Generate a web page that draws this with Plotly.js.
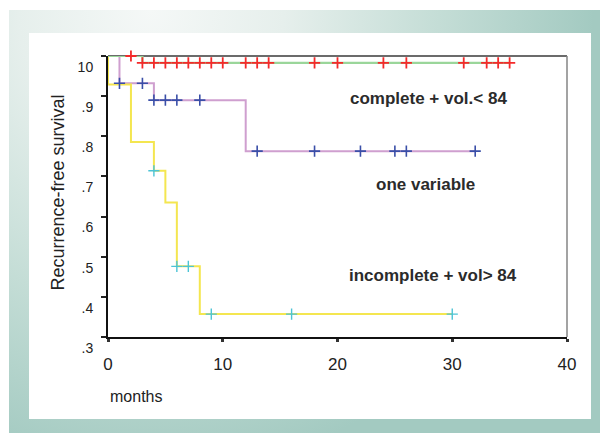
<!DOCTYPE html>
<html>
<head>
<meta charset="utf-8">
<script src="https://cdn.plot.ly/plotly-3.0.1.min.js"></script>
<style>
  html, body { margin: 0; padding: 0; background: #ffffff; }
  #frame { position: absolute; left: 9px; top: 10px; width: 591px; height: 423px;
    background: radial-gradient(ellipse 75% 110% at 24% 0%, #f5f8f7 0%, #e6efec 30%, #c4ddd6 65%, #a3cac1 100%); }
  #panel { position: absolute; left: 29px; top: 33px; width: 562px; height: 386px; background: #ffffff; }
  #chart { position: absolute; left: 0; top: 0; width: 600px; height: 433px; }
</style>
</head>
<body>
<div id="frame"></div>
<div id="panel"></div>
<div id="chart"></div>
<script>
// ---- data ----
// step curves (time in months, recurrence-free survival)
var completeTimes = [0, 3, 35];
var completeSurv  = [1.0, 0.983, 0.983];
var completeCensored = [2, 3, 4, 5, 6, 7, 8, 9, 10, 12, 13, 14, 18, 20, 24, 26, 31, 33, 34, 35];

var oneVarTimes = [0, 1, 4, 12, 32];
var oneVarSurv  = [1.0, 0.932, 0.89, 0.763, 0.763];
var oneVarCensored = [1, 3, 4, 5, 6, 8, 13, 18, 22, 25, 26, 32];

var incompleteTimes = [0, 0, 2, 4, 5, 6, 8, 30];
var incompleteSurv  = [1.0, 0.929, 0.786, 0.714, 0.635, 0.476, 0.357, 0.357];
var incompleteCensored = [4, 6, 7, 9, 16, 30];

var xTickVals = [0, 10, 20, 30, 40];
var xTickText = ['0', '10', '20', '30', '40'];
var yTickVals = [0.3, 0.4, 0.5, 0.6, 0.7, 0.8, 0.9, 1.0];
var yTickText = ['.3', '.4', '.5', '.6', '.7', '.8', '.9', '10'];

var groupLabels = ['complete + vol.< 84', 'one variable', 'incomplete + vol> 84'];

// value of a right-continuous step curve at time t
function stepValue(times, surv, t) {
  var v = surv[0];
  for (var i = 0; i < times.length; i++) { if (times[i] <= t) v = surv[i]; }
  return v;
}
function censorY(times, surv, cens) {
  return cens.map(function (t) { return stepValue(times, surv, t); });
}

var traces = [
  { x: oneVarTimes, y: oneVarSurv, mode: 'lines', cliponaxis: false, line: { shape: 'hv', color: '#cf9fcf', width: 2 }, hoverinfo: 'skip' },
  { x: incompleteTimes, y: incompleteSurv, mode: 'lines', cliponaxis: false, line: { shape: 'hv', color: '#f4e650', width: 2 }, hoverinfo: 'skip' },
  { x: completeTimes, y: completeSurv, mode: 'lines', cliponaxis: false, line: { shape: 'hv', color: '#9ad69a', width: 2.2 }, hoverinfo: 'skip' },
  { x: oneVarCensored, y: censorY(oneVarTimes, oneVarSurv, oneVarCensored), mode: 'markers', cliponaxis: false,
    marker: { symbol: 'cross-thin', size: 8, line: { color: '#3a4fa8', width: 1.6 } } },
  { x: incompleteCensored, y: censorY(incompleteTimes, incompleteSurv, incompleteCensored), mode: 'markers', cliponaxis: false,
    marker: { symbol: 'cross-thin', size: 8, line: { color: '#4cc4d6', width: 1.4 } } },
  { x: completeCensored, y: censorY(completeTimes, completeSurv, completeCensored), mode: 'markers', cliponaxis: false,
    marker: { symbol: 'cross-thin', size: 8, line: { color: '#f42a2a', width: 1.8 } } }
];

var annFont = { family: 'Liberation Sans, Arial, sans-serif', size: 17, color: '#2b2b2b' };
var layout = {
  width: 600, height: 433,
  margin: { l: 108, r: 33, t: 56, b: 96 },
  paper_bgcolor: 'rgba(0,0,0,0)',
  plot_bgcolor: 'rgba(0,0,0,0)',
  showlegend: false,
  font: { family: 'Liberation Sans, Arial, sans-serif', color: '#222' },
  xaxis: {
    range: [0, 40], tickvals: xTickVals, ticktext: xTickText,
    showgrid: false, zeroline: false, showline: true, linecolor: '#111', linewidth: 1.5,
    ticks: 'outside', ticklen: 3, tickwidth: 3, tickcolor: '#333',
    ticklabelstandoff: 8,
    tickfont: { size: 17, color: '#222' }
  },
  yaxis: {
    range: [0.3, 1.0], tickvals: yTickVals, ticktext: yTickText,
    showgrid: false, zeroline: false, showline: true, linecolor: '#111', linewidth: 2,
    ticks: 'outside', ticklen: 5, tickwidth: 2, tickcolor: '#222',
    ticklabelstandoff: 5, ticklabelshift: 11,
    tickfont: { size: 14, color: '#222' }
  },
  shapes: [
    { type: 'line', xref: 'paper', yref: 'paper', x0: 0, x1: 1, y0: 1, y1: 1, layer: 'below', line: { color: '#3a3a3a', width: 1.5 } },
    { type: 'line', xref: 'paper', yref: 'paper', x0: 1, x1: 1, y0: 0, y1: 1, line: { color: '#858585', width: 1.5 } }
  ],
  annotations: [
    { text: groupLabels[0], xref: 'x', yref: 'y', x: 20.9, y: 0.894, xanchor: 'left', yanchor: 'middle', showarrow: false, font: Object.assign({}, annFont, { weight: 'bold' }) },
    { text: groupLabels[1], xref: 'x', yref: 'y', x: 23.2, y: 0.68, xanchor: 'left', yanchor: 'middle', showarrow: false, font: Object.assign({}, annFont, { weight: 'bold' }) },
    { text: groupLabels[2], xref: 'x', yref: 'y', x: 20.8, y: 0.453, xanchor: 'left', yanchor: 'middle', showarrow: false, font: Object.assign({}, annFont, { weight: 'bold' }) },
    { text: 'months', xref: 'paper', yref: 'paper', x: 0, y: -0.21, xanchor: 'left', yanchor: 'middle', showarrow: false,
      font: { family: 'Liberation Sans, Arial, sans-serif', size: 16, color: '#222' } },
    { text: 'Recurrence-free survival', xref: 'paper', yref: 'paper', x: -0.109, y: 0.514, textangle: -90,
      xanchor: 'center', yanchor: 'middle', showarrow: false,
      font: { family: 'Liberation Sans, Arial, sans-serif', size: 18, color: '#222' } }
  ]
};

Plotly.newPlot('chart', traces, layout, { displayModeBar: false, staticPlot: true });
</script>
</body>
</html>
